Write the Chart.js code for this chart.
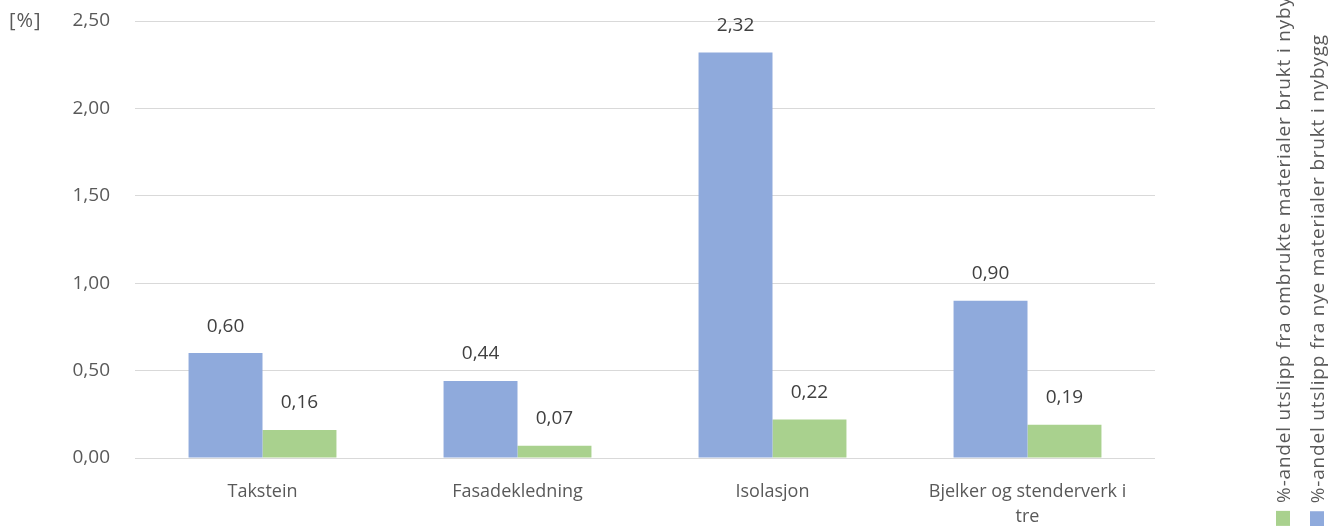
<!DOCTYPE html>
<html>
<head>
<meta charset="utf-8">
<script src="https://cdn.jsdelivr.net/npm/chart.js@4"></script>
<style>
  body { margin: 0; background: #fff; font-family: "Open Sans", sans-serif; }
  #wrap { position: relative; width: 1330px; height: 526px; overflow: hidden; }
  #unit { position: absolute; left: 9px; top: 6px; font-size: 20px; letter-spacing: 1px; color: #595959; }
  .leg { position: absolute; bottom: 0; writing-mode: vertical-rl; transform: rotate(180deg);
         font-size: 19px; letter-spacing: 0.8px; color: #595959; white-space: nowrap; display: flex; align-items: center; }
  .sw { display: inline-block; width: 14px; height: 15px; margin-bottom: 8px; }
</style>
</head>
<body>
<div id="wrap">
  <canvas id="chart" width="1330" height="526"></canvas>
  <div id="unit">[%]</div>
  <div class="leg" style="left:1270px"><span class="sw" style="background:#a9d18e"></span>%-andel utslipp fra ombrukte materialer brukt i nybygg</div>
  <div class="leg" style="left:1304px"><span class="sw" style="background:#8faadc"></span>%-andel utslipp fra nye materialer brukt i nybygg</div>
</div>
<script>
const categories = ["Takstein", "Fasadekledning", "Isolasjon", ["Bjelker og stenderverk i", "tre"]];
const newMaterials = [0.60, 0.44, 2.32, 0.90];
const reusedMaterials = [0.16, 0.07, 0.22, 0.19];

const fmt = v => v.toFixed(2).replace('.', ',');
const FONT = '"Open Sans", sans-serif';

const valueLabels = {
  id: 'valueLabels',
  afterDatasetsDraw(chart) {
    const ctx = chart.ctx;
    ctx.save();
    ctx.font = '19px ' + FONT;
    ctx.fillStyle = '#404040';
    ctx.textAlign = 'center';
    ctx.textBaseline = 'middle';
    chart.data.datasets.forEach((ds, i) => {
      chart.getDatasetMeta(i).data.forEach((bar, j) => {
        ctx.fillText(fmt(ds.data[j]), bar.x, bar.y - 27);
      });
    });
    ctx.restore();
  }
};

new Chart(document.getElementById('chart'), {
  type: 'bar',
  data: {
    labels: categories,
    datasets: [
      { label: '%-andel utslipp fra nye materialer brukt i nybygg', data: newMaterials,
        backgroundColor: '#8faadc', barPercentage: 1.0, categoryPercentage: 0.58 },
      { label: '%-andel utslipp fra ombrukte materialer brukt i nybygg', data: reusedMaterials,
        backgroundColor: '#a9d18e', barPercentage: 1.0, categoryPercentage: 0.58 }
    ]
  },
  options: {
    responsive: false,
    animation: false,
    layout: { padding: { left: 0, right: 175, top: 21, bottom: 0 } },
    plugins: { legend: { display: false }, tooltip: { enabled: false } },
    scales: {
      x: {
        grid: { display: false },
        border: { display: false },
        ticks: { color: '#595959', font: { size: 18, family: FONT, lineHeight: 1.35 }, padding: 14 },
        afterFit: s => { s.height = 68; s.paddingLeft = 0; s.paddingRight = 0; }
      },
      y: {
        min: 0, max: 2.5,
        ticks: { stepSize: 0.5, color: '#595959', padding: 25,
                 font: { size: 19, family: FONT },
                 callback: v => fmt(v) },
        grid: { color: '#d9d9d9', drawTicks: false },
        border: { display: false },
        afterFit: s => { s.width = 135; s.paddingTop = 0; s.paddingBottom = 0; }
      }
    }
  },
  plugins: [valueLabels]
});
</script>
</body>
</html>
